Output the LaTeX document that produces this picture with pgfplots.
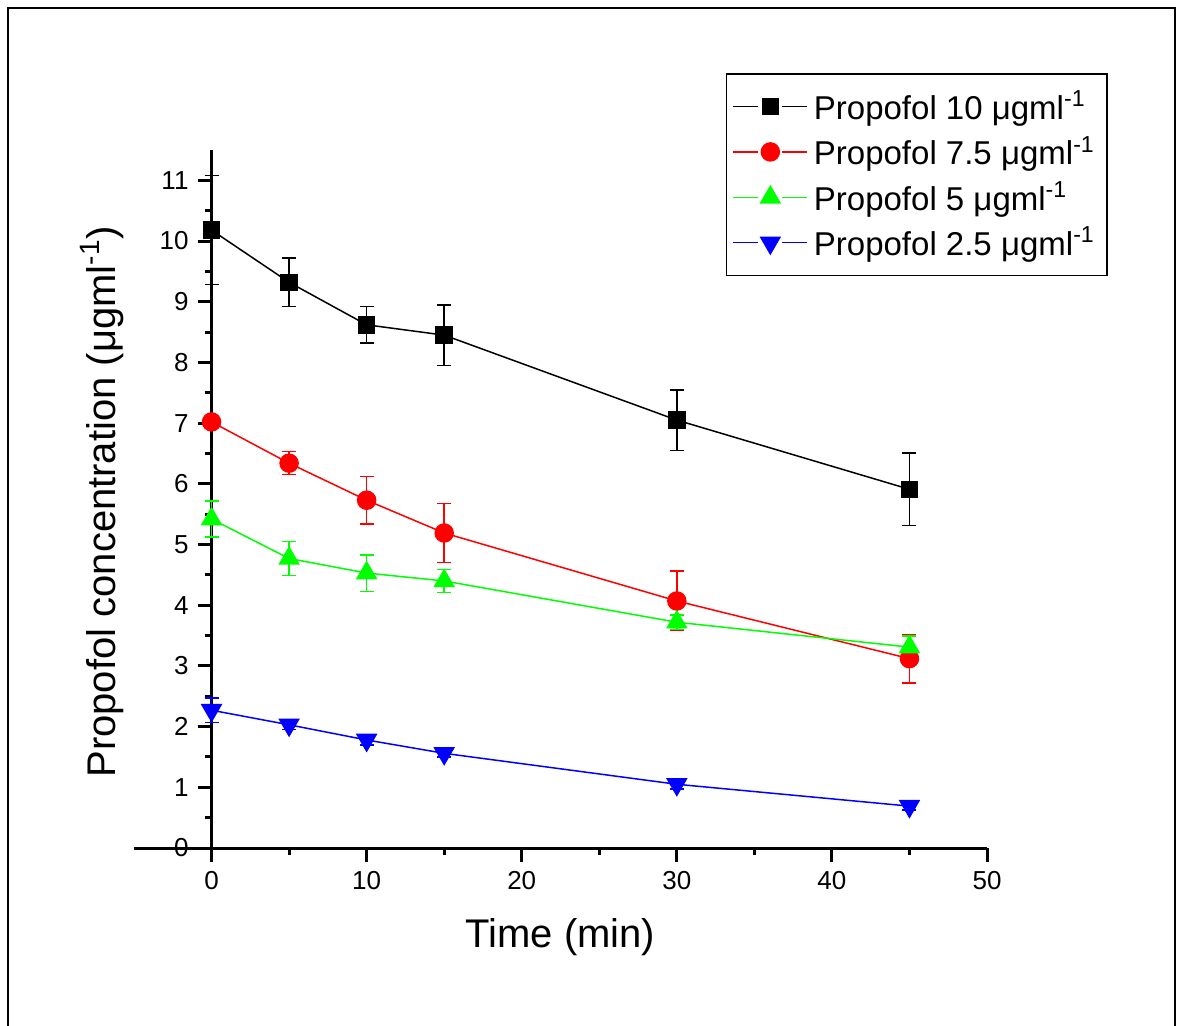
\documentclass[border=0pt]{standalone}
\usepackage{pgfplots}
\pgfplotsset{compat=1.18}
\usepackage{fontspec}
\setmainfont{Liberation Sans}
\begin{document}
\begin{tikzpicture}[x=1pt,y=1pt]
\useasboundingbox (0,0) rectangle (590.5,-513);
\draw[line width=1pt] (4,-530) -- (4,-4) -- (587.5,-4) -- (587.5,-530);
\begin{axis}[
 at={(67pt,-424pt)}, anchor=south west,
 scale only axis, width=426.5pt, height=349pt,
 xmin=-5, xmax=50, ymin=0, ymax=11.5,
 axis x line=bottom, axis y line=middle,
 axis line style={-, line width=1.5pt},
 xtick={0,10,20,30,40,50}, ytick={0,1,...,11},
 minor x tick num=1, minor y tick num=1,
 tick align=outside,
 major tick length=7pt, minor tick length=3.5pt,
 every tick/.style={line width=1.5pt, black},
 /pgf/number format/assume math mode=true,
 ticklabel style={font=\fontsize{13}{15}\selectfont},
 xticklabel style={yshift=-1pt},
 yticklabel style={xshift=-1pt},
 clip=false,
 xlabel={Time (min)},
 ylabel={Propofol concentration (μgml\textsuperscript{-1})},
 every axis x label/.style={at={(axis description cs:0.5,-0.1275)}, anchor=center, font=\fontsize{20}{24}\selectfont},
 every axis y label/.style={at={(axis description cs:-0.0375,0.496)}, rotate=90, anchor=center, font=\fontsize{20}{24}\selectfont},
 legend style={at={(axis description cs:0.694,1.1103)}, anchor=north west, draw=black, line width=0.75pt,
   font=\fontsize{16.5}{19}\selectfont, inner xsep=3pt, inner ysep=7pt, row sep=4pt,
   nodes={inner xsep=3pt, inner ysep=1.5pt}},
 legend cell align=left,
 legend image code/.code={
   \draw[mark=none, line width=0.6pt] (0pt,0pt) -- (12.5pt,0pt) (24.5pt,0pt) -- (37pt,0pt);
   \draw plot[only marks] coordinates {(18.5pt,0pt)};},
 error bars/y dir=both, error bars/y explicit,
 error bars/error bar style={line width=0.75pt},
 error bars/error mark options={rotate=90, mark size=3.5pt, line width=0.75pt},
]
\addplot[black, line width=0.75pt, mark=square*, mark size=4pt, mark options={solid}] coordinates {
 (0,10.18) +- (0,0.9)
 (5,9.32) +- (0,0.4)
 (10,8.62) +- (0,0.3)
 (15,8.45) +- (0,0.5)
 (30,7.05) +- (0,0.5)
 (45,5.91) +- (0,0.6)
};
\addlegendentry{Propofol 10 μgml\textsuperscript{-1}}
\addplot[red, line width=0.75pt, mark=*, mark size=4.5pt] coordinates {
 (0,7.02) +- (0,0.05)
 (5,6.34) +- (0,0.19)
 (10,5.73) +- (0,0.39)
 (15,5.19) +- (0,0.49)
 (30,4.07) +- (0,0.49)
 (45,3.12) +- (0,0.4)
};
\addlegendentry{Propofol 7.5 μgml\textsuperscript{-1}}
\addplot[green, line width=0.75pt, mark=triangle*, mark size=5.5pt] coordinates {
 (0,5.42) +- (0,0.3)
 (5,4.77) +- (0,0.28)
 (10,4.53) +- (0,0.3)
 (15,4.40) +- (0,0.19)
 (30,3.72) +- (0,0.12)
 (45,3.31) +- (0,0.18)
};
\addlegendentry{Propofol 5 μgml\textsuperscript{-1}}
\addplot[blue, line width=0.75pt, mark=triangle*, mark size=5.5pt, mark options={rotate=180}] coordinates {
 (0,2.27) +- (0,0.2)
 (5,2.03) +- (0,0.08)
 (10,1.78) +- (0,0.08)
 (15,1.56) +- (0,0.06)
 (30,1.05) +- (0,0.08)
 (45,0.69) +- (0,0.06)
};
\addlegendentry{Propofol 2.5 μgml\textsuperscript{-1}}
\node[anchor=east, font=\fontsize{13}{15}\selectfont, xshift=-8pt] at (axis cs:0,0) {0};
\end{axis}
\end{tikzpicture}
\end{document}
